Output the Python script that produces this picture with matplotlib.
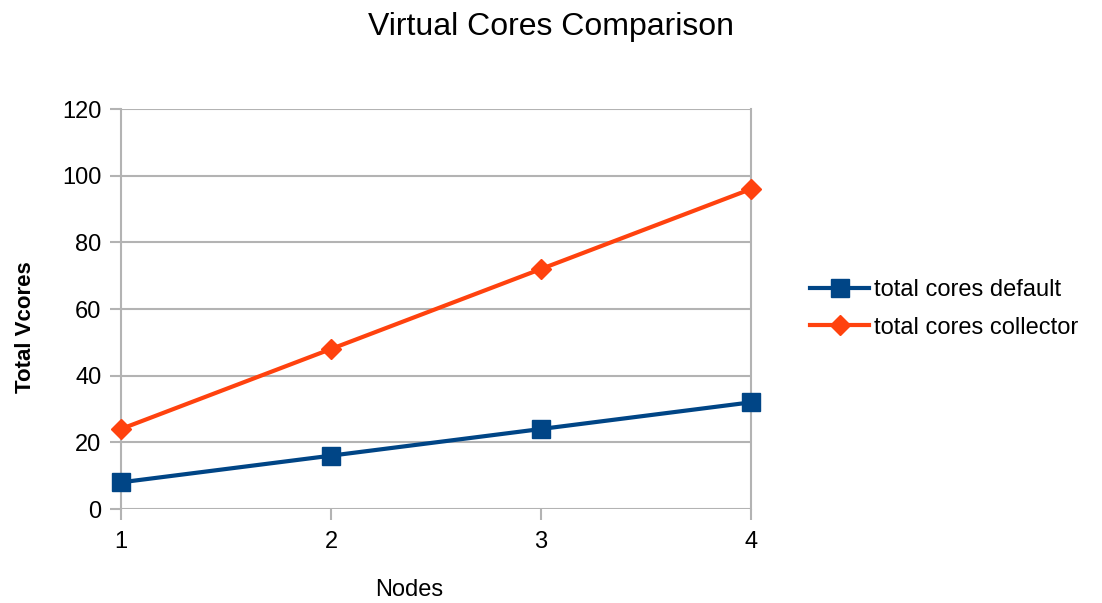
import matplotlib.pyplot as plt

# Cluster size vs. virtual cores
nodes = [1, 2, 3, 4]
cores_default = [8, 16, 24, 32]
cores_collector = [24, 48, 72, 96]
y_ticks = [0, 20, 40, 60, 80, 100, 120]

plt.rcParams['font.family'] = ['Liberation Sans', 'DejaVu Sans']

fig = plt.figure(figsize=(11.02, 6.03), dpi=100)
ax = fig.add_axes([121 / 1102, 1 - 509 / 603, 630 / 1102, 400 / 603])

grid_color = '#b3b3b3'
ax.plot(nodes, cores_default, color='#004586', lw=3, marker='s', ms=13,
        label='total cores default', clip_on=False, zorder=3)
ax.plot(nodes, cores_collector, color='#ff420e', lw=3, marker='D', ms=10,
        label='total cores collector', clip_on=False, zorder=3)

ax.set_xlim(1, 4)
ax.set_ylim(0, 120)
ax.set_xticks(nodes)
ax.set_yticks(y_ticks)
ax.grid(True, axis='y', color=grid_color, lw=1.5)
ax.set_axisbelow(True)
for side in ('top', 'bottom'):
    ax.spines[side].set_visible(False)
for side in ('left', 'right'):
    ax.spines[side].set_color(grid_color)
    ax.spines[side].set_linewidth(1.5)
ax.tick_params(axis='both', colors=grid_color, labelcolor='black',
               labelsize=17, length=8, width=1.5)
ax.tick_params(axis='x', pad=8)
ax.tick_params(axis='y', pad=6)

ax.set_xlabel('Nodes', fontsize=17)
ax.xaxis.set_label_coords(0.457, -0.175)
ax.set_ylabel('Total Vcores', fontsize=16, fontweight='bold')
ax.yaxis.set_label_coords(-0.135, 0.455)
fig.suptitle('Virtual Cores Comparison', fontsize=23, y=0.98)

ax.legend(loc='center left', bbox_to_anchor=(1.06, 0.5), frameon=False,
          fontsize=17, handlelength=2.5, handletextpad=0.2, labelspacing=0.65)

fig.savefig('out.png', dpi=100)
